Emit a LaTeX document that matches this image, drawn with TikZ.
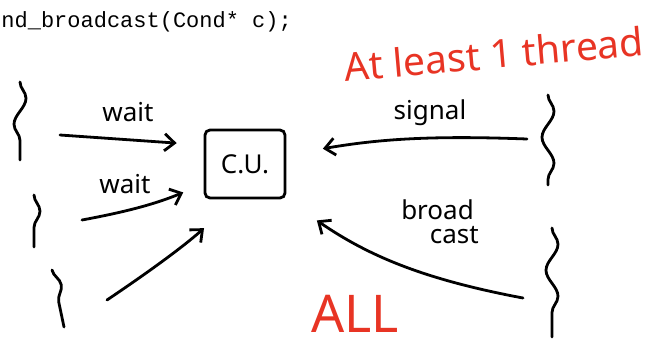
\documentclass[tikz,border=0pt]{standalone}
\usepackage{fontspec}
\setmonofont{Liberation Mono}
\newfontfamily\handfont{Noto Sans}
\usetikzlibrary{arrows.meta,decorations.pathmorphing}
\definecolor{pen}{RGB}{232,52,36}

\begin{document}
\begin{tikzpicture}[x=1pt,y=-1pt,line width=2.8pt,line cap=round,>={Straight Barb[length=3.5mm,width=6mm]},
  thread/.style={decorate,decoration={snake,segment length=52,amplitude=6}},
  call/.style={->},
  hand/.style={font=\handfont\fontsize{26}{26}\selectfont,inner sep=0pt},
  note/.style={text=pen,font=\handfont\fontsize{#1}{#1}\selectfont,inner sep=0pt}]
  \useasboundingbox[fill=white] (0,0) rectangle (663,349);
  \node[anchor=base west,inner sep=0pt,font=\ttfamily\fontsize{22}{22}\selectfont] (code) at (0,27) {nd\_broadcast(Cond* c);};
  \node[note=39,rotate=5] (least) at (494,54) {At least 1 thread};
  \node[note=52] (all) at (355,314) {ALL};
  \node[draw,rounded corners=5pt,minimum width=80,minimum height=68,font=\handfont\fontsize{26}{26}\selectfont] (cv) at (245,164) {C.U.};
  \coordinate (t1) at (20,82);
  \coordinate (t2) at (34,195);
  \coordinate (t3) at (52,270);
  \coordinate (t4) at (548,95);
  \coordinate (t5) at (552,228);
  \draw[thread] (t1) -- ++(0,78);
  \draw[thread] (t2) -- ++(0,52);
  \draw[thread] (t3) -- ++(12,57);
  \draw[thread] (t4) -- ++(0,90);
  \draw[thread] (t5) -- ++(0,109);
  \coordinate (w1) at (60,135);
  \coordinate (w2) at (82,220);
  \coordinate (w3) at (107,300);
  \coordinate (sg) at (527,139);
  \coordinate (bc) at (523,298);
  \draw[call,shorten >=27pt] (w1) -- ([yshift=19pt]cv.west);
  \draw[call,shorten >=22pt] (w2) to[bend right=6] ([yshift=-20pt]cv.west);
  \draw[call,shorten >=43pt] (w3) to[bend right=4] ([xshift=-9pt]cv.south);
  \draw[call,shorten >=37pt] (sg) to[bend right=6] ([yshift=9pt]cv.east);
  \draw[call,shorten >=37pt] (bc) to[bend left=12] (cv.south east);
  \node[hand] (lw1) at (128,112) {wait};
  \node[hand] (lw2) at (125,184) {wait};
  \node[hand] (ls) at (430,113) {signal};
  \node[hand,align=left] (lb) at (440,222) {broad\\[-2pt]\hspace*{1.1em}cast};
\end{tikzpicture}
\end{document}
